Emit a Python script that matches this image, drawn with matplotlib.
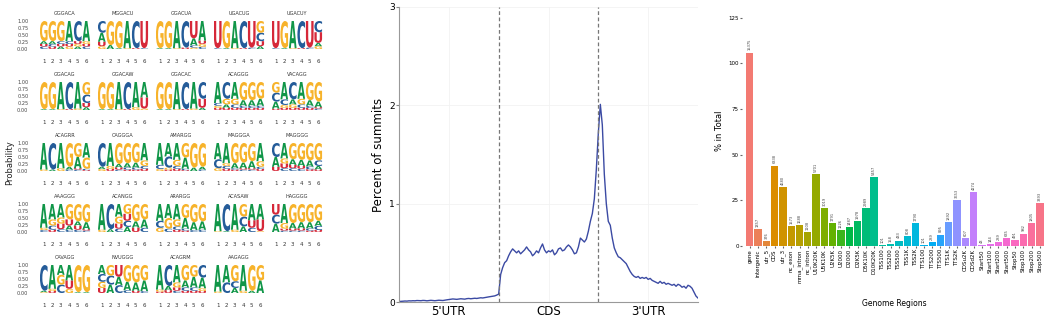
import math

import numpy as np
import matplotlib
matplotlib.use("Agg")
import matplotlib.pyplot as plt
from matplotlib.font_manager import FontProperties
from matplotlib.patches import PathPatch
from matplotlib.textpath import TextPath
from matplotlib.transforms import Affine2D

# ---------------- data: sequence logos (letter + probability per position) ----------------
motif_names = [
    "GGGACA", "MGGACU", "GGACUA", "UGACUG", "UGACUY",
    "GGACAG", "GGACAW", "GGACAC", "ACAGGG", "VACAGG",
    "ACAGRR", "CAGGGA", "AMARGG", "MAGGGA", "MAGGGG",
    "AAAGGG", "ACANGG", "ARARGG", "ACASAW", "HAGGGG",
    "CAVAGG", "NVUGGG", "ACAGRM", "AAGAGG",
]
motif_columns = [
    ["G.72 A.10 C.09 U.09", "G.72 A.10 U.09 C.09", "G.72 C.10 A.09 U.09", "A.72 C.10 G.09 U.09", "C.72 U.10 A.09 G.09", "A.72 G.10 C.09 U.09"],
    ["C.42 A.32 U.16 G.10", "G.86 A.14", "G.97 A.03", "A.97 G.03", "C.97 U.03", "U.97 C.03"],
    ["G.97 A.03", "G.97 A.03", "A.97 G.03", "C.95 U.05", "U.62 A.25 C.08 G.05", "A.70 U.12 G.10 C.08"],
    ["U.97 C.03", "G.97 A.03", "A.97 G.03", "C.97 U.03", "U.95 C.05", "G.42 C.30 U.18 A.10"],
    ["U.97 C.03", "G.97 A.03", "A.97 G.03", "C.97 U.03", "U.95 C.05", "C.40 U.38 A.12 G.10"],
    ["G.97 A.03", "G.97 A.03", "A.97 G.03", "C.97 U.03", "A.95 G.05", "G.45 C.30 U.15 A.10"],
    ["G.97 A.03", "G.97 A.03", "A.97 G.03", "C.97 U.03", "A.90 G.10", "A.55 U.40 G.05"],
    ["G.97 A.03", "G.97 A.03", "A.97 G.03", "C.97 U.03", "A.95 G.05", "C.60 U.32 A.08"],
    ["A.75 C.10 G.08 U.07", "C.60 G.20 A.12 U.08", "A.60 G.20 C.12 U.08", "G.65 A.20 C.08 U.07", "G.65 A.20 C.08 U.07", "G.60 A.25 C.08 U.07"],
    ["G.38 C.32 A.25 U.05", "A.62 C.20 G.10 U.08", "C.62 A.18 G.12 U.08", "A.60 G.20 C.12 U.08", "G.65 A.20 C.08 U.07", "G.70 A.20 C.05 U.05"],
    ["A.95 G.05", "C.95 A.05", "A.90 G.10", "G.85 A.10 C.05", "G.50 A.40 C.05 U.05", "A.52 G.40 C.05 U.03"],
    ["C.85 A.08 G.07", "A.82 G.10 U.08", "G.75 A.12 U.08 C.05", "G.72 A.15 C.08 U.05", "G.70 A.18 C.07 U.05", "A.62 G.20 C.10 U.08"],
    ["A.78 C.15 G.07", "A.48 C.40 G.07 U.05", "A.60 G.22 C.10 U.08", "G.52 A.40 C.05 U.03", "G.88 A.12", "G.85 A.10 C.05"],
    ["A.58 C.32 G.10", "A.72 C.10 G.10 U.08", "G.72 A.18 U.05 C.05", "G.70 A.20 C.05 U.05", "G.65 A.25 C.05 U.05", "A.65 G.20 C.08 U.07"],
    ["C.50 A.35 U.15", "A.55 G.18 U.17 C.10", "G.58 A.20 U.12 C.10", "G.60 A.22 U.10 C.08", "G.62 A.22 C.10 U.06", "G.62 C.20 A.12 U.06"],
    ["A.85 G.08 C.07", "A.55 G.22 C.15 U.08", "A.48 G.22 U.20 C.10", "G.55 U.22 A.15 C.08", "G.62 U.15 A.15 C.08", "G.65 A.25 C.05 U.05"],
    ["A.92 G.08", "C.90 A.10", "A.45 G.25 U.18 C.12", "G.35 U.25 C.22 A.18", "G.62 A.22 U.16", "G.55 A.30 C.15"],
    ["A.60 C.25 G.15", "A.50 G.38 C.12", "A.55 G.25 C.12 U.08", "G.50 A.38 C.07 U.05", "G.65 A.28 C.07", "G.62 A.30 C.08"],
    ["A.97 G.03", "C.97 A.03", "A.92 G.08", "G.45 C.35 A.20", "A.58 U.27 C.15", "A.55 U.42 G.03"],
    ["U.38 C.32 A.30", "A.68 G.20 U.07 C.05", "G.68 A.20 U.07 C.05", "G.65 A.22 U.08 C.05", "G.65 A.22 C.08 U.05", "G.60 A.18 C.15 U.07"],
    ["C.92 A.05 G.03", "A.85 G.08 U.07", "G.35 A.35 C.30", "A.55 U.30 G.15", "G.97 A.03", "G.97 A.03"],
    ["A.32 C.28 G.22 U.18", "G.38 C.32 A.30", "U.42 A.30 C.28", "G.60 A.30 C.10", "G.62 A.30 U.08", "G.55 A.38 C.07"],
    ["A.88 G.07 U.05", "C.75 A.15 U.10", "A.62 G.18 U.12 C.08", "G.55 A.25 C.12 U.08", "G.42 A.38 C.12 U.08", "C.45 A.38 G.10 U.07"],
    ["A.95 G.05", "A.62 C.38", "G.58 C.24 A.18", "A.92 G.08", "G.92 A.08", "G.55 A.45"],
]
nuc_colors = {"A": "#109648", "C": "#255C99", "G": "#F7B32B", "U": "#D62839"}

# ---------------- data: metagene profile ----------------
regions = ["5'UTR", "CDS", "3'UTR"]
utr5_pct = [0.005, 0.006, 0.008, 0.010, 0.009, 0.012, 0.011, 0.013, 0.012, 0.015,
            0.014, 0.013, 0.016, 0.015, 0.012, 0.014, 0.017, 0.015, 0.013, 0.016,
            0.018, 0.016, 0.015, 0.019, 0.022, 0.025, 0.028, 0.031, 0.029, 0.027,
            0.030, 0.033, 0.031, 0.029, 0.034, 0.036, 0.033, 0.035, 0.038, 0.036,
            0.040, 0.043, 0.041, 0.045, 0.048, 0.052, 0.055, 0.058, 0.062, 0.070]
cds_pct = [0.08, 0.28, 0.35, 0.40, 0.42, 0.47, 0.51, 0.54, 0.52, 0.50,
           0.52, 0.49, 0.51, 0.53, 0.56, 0.53, 0.51, 0.47, 0.49, 0.52,
           0.50, 0.55, 0.59, 0.53, 0.50, 0.52, 0.51, 0.53, 0.48, 0.50,
           0.54, 0.55, 0.52, 0.53, 0.56, 0.58, 0.56, 0.53, 0.49, 0.50,
           0.56, 0.65, 0.63, 0.61, 0.64, 0.72, 0.82, 0.90, 1.05, 1.35]
utr3_pct = [1.72, 2.01, 1.80, 1.30, 1.00, 0.82, 0.78, 0.65, 0.55, 0.50,
            0.46, 0.45, 0.43, 0.41, 0.39, 0.35, 0.31, 0.28, 0.26, 0.25,
            0.26, 0.24, 0.25, 0.24, 0.25, 0.23, 0.24, 0.22, 0.21, 0.20,
            0.19, 0.21, 0.19, 0.20, 0.18, 0.19, 0.18, 0.17, 0.18, 0.16,
            0.18, 0.17, 0.15, 0.16, 0.14, 0.17, 0.16, 0.14, 0.10, 0.06, 0.04]

# ---------------- data: genome region bar chart ----------------
genome_regions = ["gene", "intergenic", "utr_5", "CDS", "utr_3", "nc_exon", "mrna_intron",
                  "nc_intron", "U10K20K", "U5K10K", "U2K5K", "U2000", "D2000", "D2K5K",
                  "D5K10K", "D10K20K", "TSS100", "TSS200", "TSS500", "TSS1K", "TSS2K",
                  "TTS100", "TTS200", "TTS500", "TTS1K", "TTS2K", "CDSu2K", "CDSd2K",
                  "Start50", "Start100", "Start200", "Start500", "Stop50", "Stop100",
                  "Stop200", "Stop500"]
pct_total = [106, 9.4, 2.6, 44, 32.4, 10.9, 11.6, 7.7, 39.5, 20.9, 12.4, 8.5, 10.3, 13.7,
             20.7, 37.8, 0.7, 1.1, 3.0, 5.6, 12.4, 0.7, 2.0, 6.2, 13.1, 25.3, 4.2, 29.6,
             0.3, 1.0, 2.0, 4.4, 3.4, 6.8, 12.5, 23.5]
region_counts = ["15375", "1357", "376", "6338", "4680", "1573", "1688", "1108", "5701",
                 "3019", "1791", "1226", "1487", "1978", "2989", "5457", "101", "158",
                 "433", "808", "1790", "101", "289", "895", "1892", "3653", "607", "4274",
                 "43", "144", "289", "635", "491", "982", "1805", "3393"]

W, H = 1047, 322
fig = plt.figure(figsize=(W / 100, H / 100), dpi=100)


def px_axes(left, top, width, height):
    return fig.add_axes([left / W, 1 - (top + height) / H, width / W, height / H])


# ---------------- left: sequence logos ----------------
glyph_font = FontProperties(family="DejaVu Sans", weight="bold")
glyphs = {}
for nt in "ACGU":
    p = TextPath((0, 0), nt, size=1, prop=glyph_font)
    glyphs[nt] = (p, p.get_extents())


def draw_logo(ax, columns):
    for pos, col in enumerate(columns, start=1):
        items = [(tok[0], float(tok[1:])) for tok in col.split()]
        items.sort(key=lambda kv: kv[1])
        y0 = 0.0
        for nt, h in items:
            path, bb = glyphs[nt]
            tr = (Affine2D().translate(-bb.x0, -bb.y0)
                  .scale(0.9 / bb.width, h / bb.height)
                  .translate(pos - 0.45, y0))
            ax.add_patch(PathPatch(tr.transform_path(path), facecolor=nuc_colors[nt],
                                   edgecolor="none"))
            y0 += h


for k, (name, cols) in enumerate(zip(motif_names, motif_columns)):
    r, c = divmod(k, 5)
    ax = px_axes(39.5 + 58 * c, 21 + 61 * r, 51, 28)
    draw_logo(ax, cols)
    ax.set_xlim(0.5, 6.5)
    ax.set_ylim(0, 1)
    for s in ax.spines.values():
        s.set_visible(False)
    ax.set_xticks(range(1, 7))
    ax.set_xticklabels([str(i) for i in range(1, 7)])
    ax.tick_params(axis="x", length=0, pad=7.5, labelsize=4, colors="#333333")
    if c == 0:
        ax.set_yticks([0, 0.25, 0.5, 0.75, 1.0])
        ax.set_yticklabels(["0.00", "0.25", "0.50", "0.75", "1.00"])
        ax.tick_params(axis="y", length=0, pad=8, labelsize=3.6, colors="#444444")
    else:
        ax.set_yticks([])
    ax.set_title(name, fontsize=3.6, pad=4, color="#333333")

fig.text(10 / W, 1 - 163 / H, "Probability", rotation=90, ha="center", va="center",
         fontsize=6, color="#222222")

# ---------------- middle: metagene profile ----------------
ax2 = px_axes(399, 7, 299, 295)
profile = utr5_pct + cds_pct + utr3_pct
xpos = np.linspace(0, 3, len(profile))
ax2.plot(xpos, profile, color="#3B4AA3", lw=1.0)
for b in (1, 2):
    ax2.axvline(b, color="#777777", ls=(0, (3, 2)), lw=0.9)
ax2.set_xlim(0, 3)
ax2.set_ylim(0, 3)
ax2.set_yticks([0, 1, 2, 3])
ax2.set_xticks([0.5, 1.5, 2.5])
ax2.set_xticklabels(regions)
ax2.tick_params(axis="x", length=0, labelsize=8.5, pad=2)
ax2.tick_params(axis="y", length=2, labelsize=6.5, pad=1, color="#888888")
ax2.set_ylabel("Percent of summits", fontsize=8.5, labelpad=3)
ax2.grid(color="#f2f2f2", lw=0.6)
ax2.set_axisbelow(True)
for side in ("top", "right"):
    ax2.spines[side].set_visible(False)
for side in ("left", "bottom"):
    ax2.spines[side].set_color("#999999")
    ax2.spines[side].set_linewidth(0.8)


# ---------------- right: genome region bars ----------------
def hue_color(h, c=92.0, l=65.0):
    # ggplot2-style hue palette (polar CIE-Luv -> sRGB)
    hr = math.radians(h)
    u, v = c * math.cos(hr), c * math.sin(hr)
    xn, yn, zn = 95.047, 100.0, 108.883
    un = 4 * xn / (xn + 15 * yn + 3 * zn)
    vn = 9 * yn / (xn + 15 * yn + 3 * zn)
    y = yn * ((l + 16) / 116) ** 3
    up, vp = u / (13 * l) + un, v / (13 * l) + vn
    x = y * 9 * up / (4 * vp)
    z = y * (12 - 3 * up - 20 * vp) / (4 * vp)
    x, y, z = x / 100, y / 100, z / 100
    rgb = [3.2406 * x - 1.5372 * y - 0.4986 * z,
           -0.9689 * x + 1.8758 * y + 0.0415 * z,
           0.0557 * x - 0.2040 * y + 1.0570 * z]
    out = []
    for ch in rgb:
        ch = max(ch, 0)
        ch = 12.92 * ch if ch <= 0.0031308 else 1.055 * ch ** (1 / 2.4) - 0.055
        out.append(min(max(ch, 0), 1))
    return tuple(out)


n = len(genome_regions)
bar_colors = [hue_color(15 + 360 * i / n) for i in range(n)]

ax3 = px_axes(742, 16, 304, 230)
idx = np.arange(n)
ax3.bar(idx, pct_total, width=0.88, color=bar_colors)
for i, (v, lab) in enumerate(zip(pct_total, region_counts)):
    ax3.text(i, v + 1.2, lab, rotation=90, ha="center", va="bottom", fontsize=2.6,
             color="#444444")
ax3.set_xlim(-0.94, 35.73)
ax3.set_ylim(0, 126)
ax3.set_yticks([0, 25, 50, 75, 100, 125])
ax3.set_xticks(idx)
ax3.set_xticklabels(genome_regions, rotation=90)
ax3.tick_params(axis="x", length=1.2, labelsize=4, pad=1, color="#666666")
ax3.tick_params(axis="y", length=1.2, labelsize=4, pad=1, color="#666666")
for s in ax3.spines.values():
    s.set_visible(False)
ax3.set_ylabel("% in Total", fontsize=6, labelpad=3)
ax3.set_xlabel("Genome Regions", fontsize=5.5, labelpad=12)

fig.savefig("out.png", dpi=100)
